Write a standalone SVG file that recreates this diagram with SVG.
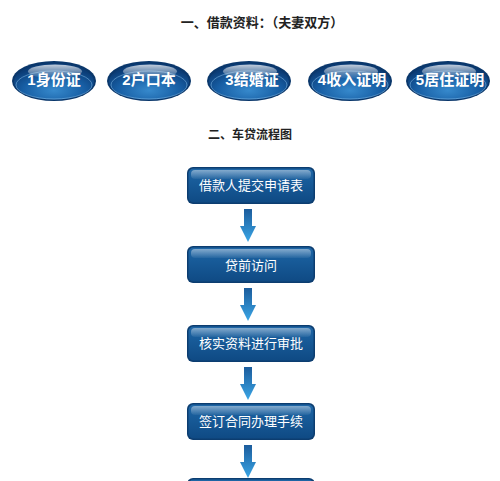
<svg xmlns="http://www.w3.org/2000/svg" width="500" height="481" viewBox="0 0 500 481">
<defs>
<radialGradient id="eg" cx="0.5" cy="0.75" r="0.65">
<stop offset="0" stop-color="#3689cc"/>
<stop offset="0.6" stop-color="#175ea4"/>
<stop offset="1" stop-color="#0b3c76"/>
</radialGradient>
<linearGradient id="eh" x1="0" y1="0" x2="0" y2="1">
<stop offset="0" stop-color="#ffffff" stop-opacity="0.75"/>
<stop offset="1" stop-color="#ffffff" stop-opacity="0.05"/>
</linearGradient>
<linearGradient id="bg" x1="0" y1="0" x2="0" y2="1">
<stop offset="0" stop-color="#1e66a6"/>
<stop offset="0.5" stop-color="#165895"/>
<stop offset="1" stop-color="#0f4a84"/>
</linearGradient>
<linearGradient id="bh" x1="0" y1="0" x2="0" y2="1">
<stop offset="0" stop-color="#ffffff" stop-opacity="0.45"/>
<stop offset="1" stop-color="#ffffff" stop-opacity="0.05"/>
</linearGradient>
<linearGradient id="ag" x1="0" y1="0" x2="0" y2="1">
<stop offset="0" stop-color="#1c5c9c"/>
<stop offset="1" stop-color="#3aa6e6"/>
</linearGradient>
<symbol id="ell" overflow="visible">
<ellipse cx="0" cy="0" rx="42" ry="20" fill="#0a376b"/>
<ellipse cx="0" cy="0.5" rx="40" ry="18" fill="url(#eg)"/>
<ellipse cx="0" cy="4" rx="38" ry="14" fill="none" stroke="#8cc4ee" stroke-opacity="0.5" stroke-width="1"/>
<ellipse cx="1" cy="-9.5" rx="27" ry="7" fill="url(#eh)"/>
</symbol>
<symbol id="box" overflow="visible">
<rect x="0" y="0" width="128" height="37" rx="6" fill="#0c3d70"/>
<rect x="1.5" y="1.5" width="125" height="34" rx="5" fill="url(#bg)"/>
<rect x="4" y="3" width="120" height="9" rx="4" fill="url(#bh)"/>
</symbol>
<symbol id="arr" overflow="visible">
<path d="M-4,0 H4 V17 H8 L0,33 L-8,17 H-4 Z" fill="url(#ag)"/>
</symbol>
</defs>
<style>
.t{font-family:"Liberation Sans","Noto Sans CJK SC",sans-serif;font-weight:bold;fill:#222;text-anchor:middle}
.e{font-family:"Liberation Sans","Noto Sans CJK SC",sans-serif;font-weight:bold;font-size:15px;fill:#fff;text-anchor:middle}
.b{font-family:"Noto Sans CJK SC",sans-serif;font-size:13px;fill:#fff;text-anchor:middle}
</style>
<rect width="500" height="481" fill="#fff"/>
<text class="t" x="262" y="27" font-size="13">一、借款资料：（夫妻双方）</text>
<text class="t" x="250" y="139" font-size="12">二、车贷流程图</text>
<g id="n1"><use href="#ell" x="54" y="81"/><text class="e" x="54" y="85">1身份证</text></g>
<g id="n2"><use href="#ell" x="149" y="81"/><text class="e" x="149" y="85">2户口本</text></g>
<g id="n3"><use href="#ell" x="249" y="81"/><text class="e" x="252" y="85">3结婚证</text></g>
<g id="n4"><use href="#ell" x="350" y="81"/><text class="e" x="352" y="85">4收入证明</text></g>
<g id="n5"><use href="#ell" x="448" y="81"/><text class="e" x="450" y="85">5居住证明</text></g>
<g id="s1"><use href="#box" x="187" y="167"/><text class="b" x="251" y="190">借款人提交申请表</text></g>
<g id="s2"><use href="#box" x="187" y="246"/><text class="b" x="251" y="270">贷前访问</text></g>
<g id="s3"><use href="#box" x="187" y="325"/><text class="b" x="251" y="348">核实资料进行审批</text></g>
<g id="s4"><use href="#box" x="187" y="403"/><text class="b" x="251" y="426">签订合同办理手续</text></g>
<g id="s5"><use href="#box" x="187" y="478"/></g>
<g id="connectors">
<use href="#arr" x="248" y="209"/>
<use href="#arr" x="248" y="288"/>
<use href="#arr" x="248" y="367"/>
<use href="#arr" x="248" y="445"/>
</g>
</svg>
